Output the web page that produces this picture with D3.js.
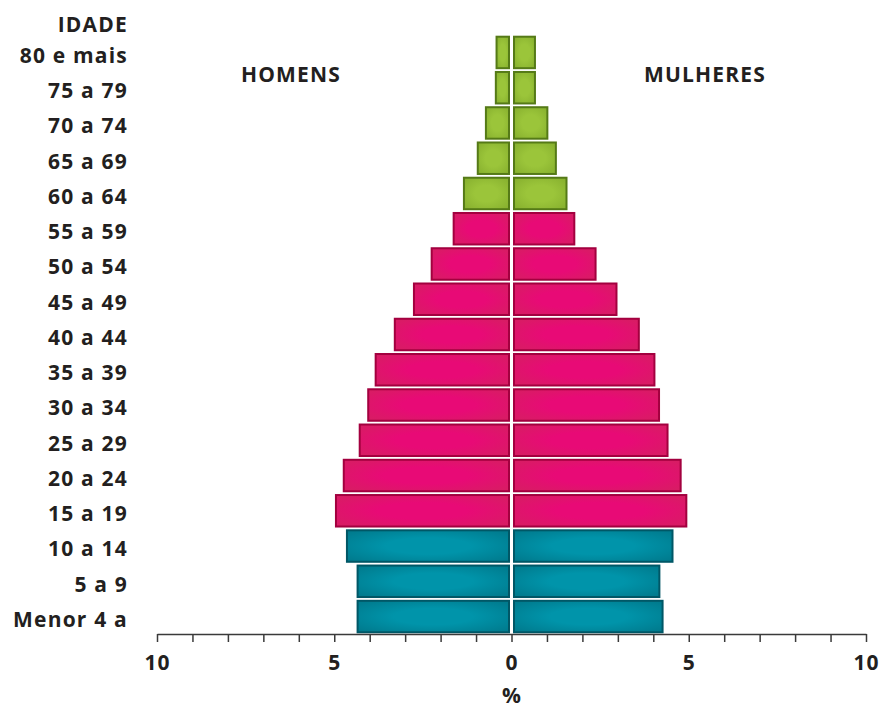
<!DOCTYPE html>
<html>
<head>
<meta charset="utf-8">
<script src="https://cdn.jsdelivr.net/npm/d3@7/dist/d3.min.js"></script>
<style>
  body { margin: 0; background: #fff; }
  text { font-family: "Open Sans", "Noto Sans", sans-serif; font-weight: 700; fill: #231f20; }
</style>
</head>
<body>
<div id="chart"></div>
<script>
// age groups, top to bottom
var ages = ["80 e mais", "75 a 79", "70 a 74", "65 a 69", "60 a 64", "55 a 59", "50 a 54",
            "45 a 49", "40 a 44", "35 a 39", "30 a 34", "25 a 29", "20 a 24", "15 a 19",
            "10 a 14", "5 a 9", "Menor 4 a"];
var homens   = [0.45, 0.47, 0.75, 0.98, 1.37, 1.66, 2.28, 2.78, 3.32, 3.86, 4.07, 4.31, 4.76, 4.98, 4.67, 4.37, 4.37];
var mulheres = [0.69, 0.69, 1.04, 1.28, 1.58, 1.80, 2.40, 2.99, 3.62, 4.06, 4.19, 4.43, 4.80, 4.96, 4.57, 4.20, 4.29];
// colour group per age row
var grupo = ["idoso", "idoso", "idoso", "idoso", "idoso", "adulto", "adulto", "adulto", "adulto",
             "adulto", "adulto", "adulto", "adulto", "adulto", "jovem", "jovem", "jovem"];
var tickLabels = [-10, -5, 0, 5, 10];

var width = 884, height = 709;
var cx = 512;

var svg = d3.select("#chart").append("svg")
    .attr("width", width)
    .attr("height", height);

var cores = {
    idoso:  { edge: "#88b12f", mid: "#9bc53a", stroke: "#557a17" },
    adulto: { edge: "#d81c64", mid: "#e80a76", stroke: "#a3003f" },
    jovem:  { edge: "#007b8e", mid: "#0094aa", stroke: "#005766" }
};

var defs = svg.append("defs");
Object.keys(cores).forEach(function (k) {
    var g = defs.append("radialGradient").attr("id", "grad-" + k)
        .attr("cx", "50%").attr("cy", "50%").attr("r", "65%");
    g.append("stop").attr("offset", "0%").attr("stop-color", cores[k].mid);
    g.append("stop").attr("offset", "40%").attr("stop-color", cores[k].mid);
    g.append("stop").attr("offset", "100%").attr("stop-color", cores[k].edge);
});

var x = d3.scaleLinear().domain([-10, 10]).range([157, 866]);
var y = d3.scaleBand().domain(ages).range([35, 634]).paddingInner(0.05).paddingOuter(0.02);

var rows = ages.map(function (a, i) {
    return { age: a, h: homens[i], m: mulheres[i], g: grupo[i] };
});

// male bars (left)
svg.selectAll(".homem").data(rows).enter().append("rect")
    .attr("class", "homem")
    .attr("x", function (d) { return x(-d.h) + 1; })
    .attr("y", function (d) { return y(d.age) + 1; })
    .attr("width", function (d) { return x(0) - x(-d.h) - 3.5; })
    .attr("height", y.bandwidth() - 2)
    .attr("fill", function (d) { return "url(#grad-" + d.g + ")"; })
    .attr("stroke", function (d) { return cores[d.g].stroke; })
    .attr("stroke-width", 2);

// female bars (right)
svg.selectAll(".mulher").data(rows).enter().append("rect")
    .attr("class", "mulher")
    .attr("x", x(0) + 2.5)
    .attr("y", function (d) { return y(d.age) + 1; })
    .attr("width", function (d) { return x(d.m) - x(0) - 3.5; })
    .attr("height", y.bandwidth() - 2)
    .attr("fill", function (d) { return "url(#grad-" + d.g + ")"; })
    .attr("stroke", function (d) { return cores[d.g].stroke; })
    .attr("stroke-width", 2);

// labels use a little letter spacing to match the wider original typeface
function label(sel) {
    return sel.style("font-size", "21px").style("letter-spacing", "1.2px");
}

svg.selectAll(".idade").data(ages).enter().append("text")
    .attr("class", "idade")
    .attr("x", 128)
    .attr("y", function (d) { return y(d) + y.bandwidth() / 2 + 3; })
    .attr("dy", "0.35em")
    .attr("text-anchor", "end")
    .call(label)
    .text(function (d) { return d; });

svg.append("text").attr("x", 128).attr("y", 25).attr("dy", "0.35em")
    .attr("text-anchor", "end").call(label).text("IDADE");

svg.append("text").attr("x", 291).attr("y", 75).attr("dy", "0.35em")
    .attr("text-anchor", "middle").call(label).text("HOMENS");
svg.append("text").attr("x", 705).attr("y", 75).attr("dy", "0.35em")
    .attr("text-anchor", "middle").call(label).text("MULHERES");

// axis
var axis = d3.axisBottom(x)
    .tickValues(d3.range(-10, 11))
    .tickSize(8)
    .tickSizeOuter(0)
    .tickFormat(function (d) { return tickLabels.indexOf(d) >= 0 ? Math.abs(d) : ""; });

var gx = svg.append("g").attr("transform", "translate(0,634)").call(axis);
gx.select(".domain").attr("stroke", "#3a3a3a").attr("stroke-width", 1.5);
gx.selectAll(".tick line").attr("stroke", "#3a3a3a").attr("stroke-width", 1.5);
gx.selectAll(".tick text")
    .attr("y", 21)
    .style("font-size", "21px")
    .style("letter-spacing", "1px")
    .style("font-family", "'Open Sans', sans-serif")
    .style("font-weight", 700)
    .attr("fill", "#231f20");

svg.append("text").attr("x", cx).attr("y", 696).attr("dy", "0.35em")
    .attr("text-anchor", "middle").call(label).text("%");
</script>
</body>
</html>
